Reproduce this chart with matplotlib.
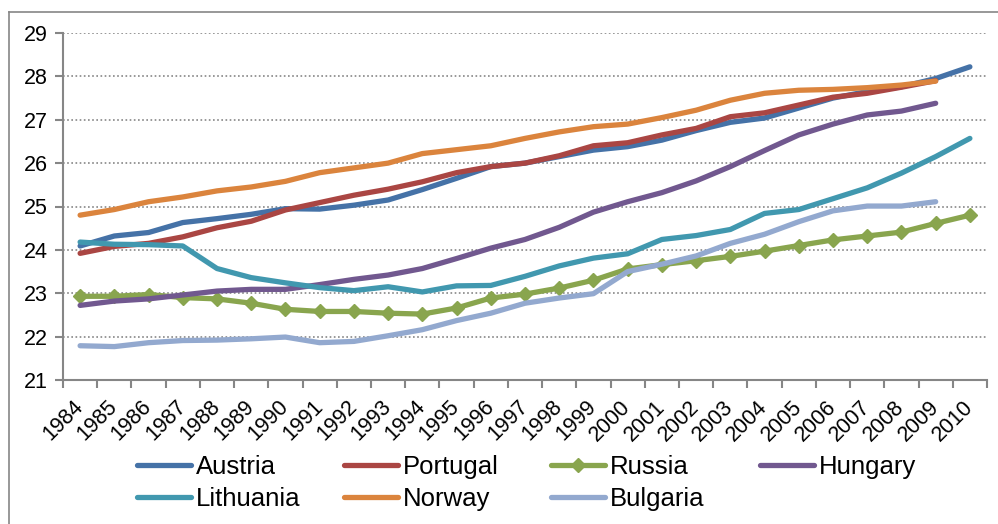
import numpy as np
import matplotlib
matplotlib.use("Agg")
import matplotlib.pyplot as plt
from matplotlib.lines import Line2D

nan = np.nan

years = [str(y) for y in range(1984, 2011)]

austria = [24.09, 24.32, 24.40, 24.63, 24.72, 24.82, 24.95, 24.94, 25.03, 25.15, 25.39, 25.65, 25.92,
           26.00, 26.15, 26.30, 26.38, 26.53, 26.75, 26.94, 27.04, 27.27, 27.50, 27.65, 27.76, 27.95, 28.22]
portugal = [23.92, 24.08, 24.15, 24.30, 24.51, 24.66, 24.92, 25.09, 25.26, 25.40, 25.57, 25.78, 25.92,
            26.00, 26.17, 26.40, 26.47, 26.65, 26.80, 27.07, 27.16, 27.34, 27.52, 27.61, 27.75, 27.90, nan]
russia = [22.93, 22.93, 22.97, 22.90, 22.87, 22.77, 22.63, 22.58, 22.58, 22.54, 22.52, 22.66, 22.89,
          22.98, 23.12, 23.30, 23.56, 23.66, 23.75, 23.85, 23.97, 24.10, 24.23, 24.32, 24.41, 24.61, 24.80]
hungary = [22.72, 22.82, 22.87, 22.96, 23.05, 23.09, 23.09, 23.20, 23.32, 23.42, 23.57, 23.80, 24.04,
           24.24, 24.52, 24.87, 25.11, 25.32, 25.59, 25.92, 26.29, 26.65, 26.90, 27.11, 27.20, 27.38, nan]
lithuania = [24.18, 24.13, 24.12, 24.09, 23.57, 23.36, 23.24, 23.13, 23.06, 23.15, 23.03, 23.17, 23.18,
             23.39, 23.63, 23.81, 23.91, 24.24, 24.33, 24.47, 24.84, 24.93, 25.18, 25.43, 25.77, 26.15, 26.57]
norway = [24.80, 24.93, 25.11, 25.22, 25.36, 25.45, 25.58, 25.78, 25.89, 26.00, 26.22, 26.31, 26.40,
          26.57, 26.72, 26.84, 26.90, 27.05, 27.22, 27.45, 27.61, 27.68, 27.70, 27.74, 27.80, 27.89, nan]
bulgaria = [21.79, 21.77, 21.86, 21.91, 21.92, 21.95, 21.99, 21.86, 21.89, 22.02, 22.16, 22.37, 22.54,
            22.77, 22.89, 22.99, 23.50, 23.67, 23.86, 24.15, 24.36, 24.65, 24.90, 25.01, 25.01, 25.11, nan]

series = [
    ("Austria", austria, "#4572A7"),
    ("Portugal", portugal, "#AA4643"),
    ("Russia", russia, "#89A54E"),
    ("Hungary", hungary, "#71588F"),
    ("Lithuania", lithuania, "#4198AF"),
    ("Norway", norway, "#DB843D"),
    ("Bulgaria", bulgaria, "#93A9CF"),
]

plt.rcParams["font.family"] = ["Liberation Sans", "DejaVu Sans"]

W, H = 998, 524
fig = plt.figure(figsize=(W / 100, H / 100), dpi=100)
ax = fig.add_axes([63 / W, 1 - 380 / H, (987 - 63) / W, (380 - 33) / H])

x = np.arange(len(years))
handles = {}
for name, vals, col in series:
    if name == "Russia":
        ln, = ax.plot(x, vals, color=col, lw=3.8, marker="D", markersize=7.5,
                      solid_capstyle="round", solid_joinstyle="round", label=name)
    else:
        ln, = ax.plot(x, vals, color=col, lw=3.8,
                      solid_capstyle="round", solid_joinstyle="round", label=name)
    handles[name] = ln

gray = "#868686"
ax.set_xlim(-0.5, len(years) - 0.5)
ax.set_ylim(21, 29)
ax.set_yticks(range(21, 30))
ax.set_xticks(x)
ax.set_xticklabels(years, rotation=45, ha="right", va="center", rotation_mode="anchor")
ax.set_xticks(np.arange(-0.5, len(years)), minor=True)
ax.tick_params(axis="x", which="major", length=0, pad=17, labelsize=15.5)
ax.tick_params(axis="x", which="minor", length=6, width=1.5, color=gray, direction="out")
ax.tick_params(axis="y", length=6, width=1.5, color=gray, direction="out", pad=5, labelsize=15.5)

for yv in range(22, 30):
    ax.axhline(yv, color=gray, lw=1.2, linestyle=(0, (1, 1.5)), zorder=0)

for s in ["top", "right"]:
    ax.spines[s].set_visible(False)
for s in ["left", "bottom"]:
    ax.spines[s].set_color(gray)
    ax.spines[s].set_linewidth(1.5)

# legend, four equal-width columns like Excel
cols = [["Austria", "Lithuania"], ["Portugal", "Norway"], ["Russia", "Bulgaria"], ["Hungary"]]
col_x = [137, 344, 551, 760]
for names, cx in zip(cols, col_x):
    fig.legend([handles[n] for n in names], names, loc="upper left",
               bbox_to_anchor=(cx / W, 1 - 455 / H), frameon=False, fontsize=18.5,
               borderpad=0, borderaxespad=0, handlelength=2.1, handletextpad=0.2,
               labelspacing=0.3)

# outer chart border (cut at right and bottom)
fig.add_artist(Line2D([8.5 / W, 8.5 / W], [0, 1 - 12 / H], transform=fig.transFigure, color=gray, lw=1.2))
fig.add_artist(Line2D([8.5 / W, 1], [1 - 12 / H, 1 - 12 / H], transform=fig.transFigure, color=gray, lw=1.2))

fig.savefig("out.png", dpi=100)
